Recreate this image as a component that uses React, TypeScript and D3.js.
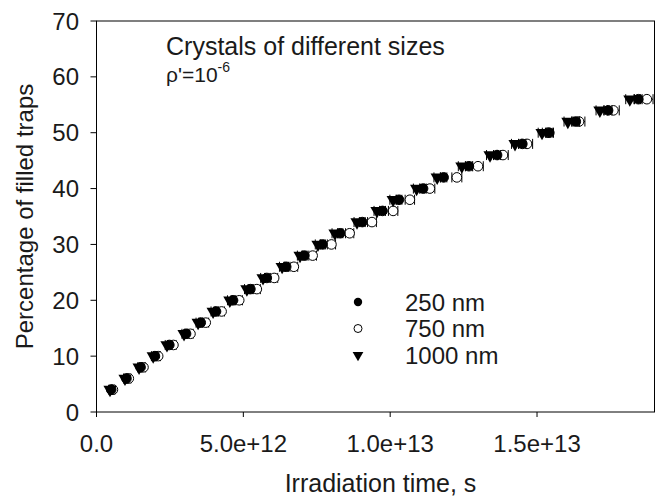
import React from "react";
import * as d3 from "d3";

const yLevels = [4, 6, 8, 10, 12, 14, 16, 18, 20, 22, 24, 26, 28, 30, 32, 34, 36, 38, 40, 42, 44, 46, 48, 50, 52, 54, 56];
// irradiation time in units of 1e12 s
const t1000 = [0.46, 0.97, 1.45, 1.93, 2.4, 2.98, 3.46, 3.97, 4.54, 5.12, 5.67, 6.32, 6.93, 7.54, 8.12, 8.87, 9.55, 10.1, 10.9, 11.6, 12.44, 13.4, 14.25, 15.17, 16.05, 17.14, 18.16];
const t250 = [0.5, 1.02, 1.5, 1.99, 2.48, 3.05, 3.55, 4.07, 4.65, 5.24, 5.8, 6.46, 7.08, 7.7, 8.3, 9.05, 9.74, 10.3, 11.12, 11.82, 12.68, 13.64, 14.5, 15.42, 16.32, 17.42, 18.45];
const t750 = [0.56, 1.1, 1.6, 2.1, 2.62, 3.2, 3.72, 4.26, 4.86, 5.46, 6.05, 6.72, 7.36, 8.0, 8.62, 9.38, 10.1, 10.67, 11.35, 12.27, 12.99, 13.84, 14.66, 15.37, 16.43, 17.6, 18.74];
const e1000 = [0.04, 0.05, 0.05, 0.06, 0.06, 0.07, 0.07, 0.07, 0.08, 0.08, 0.08, 0.09, 0.09, 0.09, 0.1, 0.1, 0.1, 0.11, 0.11, 0.11, 0.12, 0.12, 0.12, 0.13, 0.13, 0.13, 0.14];
const e250 = [0.04, 0.05, 0.05, 0.05, 0.06, 0.06, 0.07, 0.07, 0.07, 0.08, 0.08, 0.08, 0.09, 0.09, 0.09, 0.1, 0.1, 0.1, 0.11, 0.11, 0.11, 0.12, 0.12, 0.12, 0.13, 0.13, 0.13];
const e750 = [0.06, 0.07, 0.07, 0.08, 0.09, 0.09, 0.1, 0.1, 0.11, 0.12, 0.12, 0.13, 0.13, 0.14, 0.14, 0.15, 0.16, 0.16, 0.17, 0.17, 0.18, 0.18, 0.19, 0.19, 0.2, 0.2, 0.21];

const xTicks = [0, 5e12, 1e13, 1.5e13];
const xTickLabels = ["0.0", "5.0e+12", "1.0e+13", "1.5e+13"];
const yTicks = [0, 10, 20, 30, 40, 50, 60, 70];
const legendLabels = ["250 nm", "750 nm", "1000 nm"];

const W = 659, H = 496;
const L = 96.5, R = 654.5, T = 21, B = 412;
const FONT = "'Liberation Sans', Arial, Helvetica, sans-serif";
const TXT = "#1a1a1a";

export default function App() {
  const x = d3.scaleLinear().domain([0, 1.9e13]).range([L, R]);
  const y = d3.scaleLinear().domain([0, 70]).range([B, T]);
  const tri = d3.symbol().type(d3.symbolTriangle).size(75)();

  const errBar = (cx: number, cy: number, lo: number, hi: number, key: string) => (
    <g key={key} stroke="#000" strokeWidth={1}>
      <line x1={lo} x2={hi} y1={cy} y2={cy} />
      <line x1={lo} x2={lo} y1={cy - 5} y2={cy + 5} />
      <line x1={hi} x2={hi} y1={cy - 5} y2={cy + 5} />
    </g>
  );

  const series = [
    { t: t750, e: e750, kind: "open" },
    { t: t250, e: e250, kind: "filled" },
    { t: t1000, e: e1000, kind: "tri" },
  ];

  return (
    <svg width={W} height={H} style={{ position: "absolute", left: 0, top: 0, background: "#fff" }} fontFamily={FONT}>
      <rect x={0} y={0} width={W} height={H} fill="#fff" />
      {/* frame */}
      <rect x={L} y={T} width={R - L} height={B - T} fill="none" stroke="#000" strokeWidth={1} />
      {/* y ticks */}
      {yTicks.map((v) => (
        <g key={"y" + v}>
          <line x1={L - 6} x2={L} y1={y(v)} y2={y(v)} stroke="#000" />
          <text x={79} y={y(v) + 8.5} fontSize={24} textAnchor="end" fill={TXT}>{v}</text>
        </g>
      ))}
      {/* x ticks */}
      {xTicks.map((v, i) => (
        <g key={"x" + v}>
          <line x1={x(v)} x2={x(v)} y1={B} y2={B + 5} stroke="#000" />
          <text x={x(v)} y={452} fontSize={24} textAnchor="middle" fill={TXT}>{xTickLabels[i]}</text>
        </g>
      ))}
      <text x={(L + R) / 2 + 5} y={492} fontSize={25} textAnchor="middle" fill={TXT}>Irradiation time, s</text>
      <text transform={`translate(33,${(T + B) / 2}) rotate(-90)`} fontSize={24} textAnchor="middle" fill={TXT}>Percentage of filled traps</text>

      <text x={166} y={55} fontSize={25} fill={TXT}>Crystals of different sizes</text>
      <text x={166} y={82} fontSize={21} fill={TXT}>ρ'=10<tspan fontSize={14} dy={-10}>-6</tspan></text>

      {/* data */}
      {series.map((s, si) => (
        <g key={"s" + si}>
          {yLevels.map((lv, i) => {
            const cx = x(s.t[i] * 1e12), cy = y(lv);
            return errBar(cx, cy, x((s.t[i] - s.e[i]) * 1e12), x((s.t[i] + s.e[i]) * 1e12), `e${si}-${i}`);
          })}
          {yLevels.map((lv, i) => {
            const cx = x(s.t[i] * 1e12), cy = y(lv);
            if (s.kind === "tri") return <path key={i} d={tri!} transform={`translate(${cx},${cy}) rotate(180)`} fill="#000" />;
            return <circle key={i} cx={cx} cy={cy} r={4.8} fill={s.kind === "open" ? "#fff" : "#000"} stroke="#000" strokeWidth={1} />;
          })}
        </g>
      ))}

      {/* legend */}
      {legendLabels.map((lab, i) => {
        const ly = 302 + i * 26.5;
        return (
          <g key={lab}>
            {i === 0 && <circle cx={358} cy={ly} r={4.2} fill="#000" />}
            {i === 1 && <circle cx={358} cy={ly} r={4} fill="#fff" stroke="#000" />}
            {i === 2 && <path d={d3.symbol().type(d3.symbolTriangle).size(50)()!} transform={`translate(358,${ly}) rotate(180)`} fill="#000" />}
            <text x={405} y={ly + 8.5} fontSize={24} fill={TXT}>{lab}</text>
          </g>
        );
      })}
    </svg>
  );
}
